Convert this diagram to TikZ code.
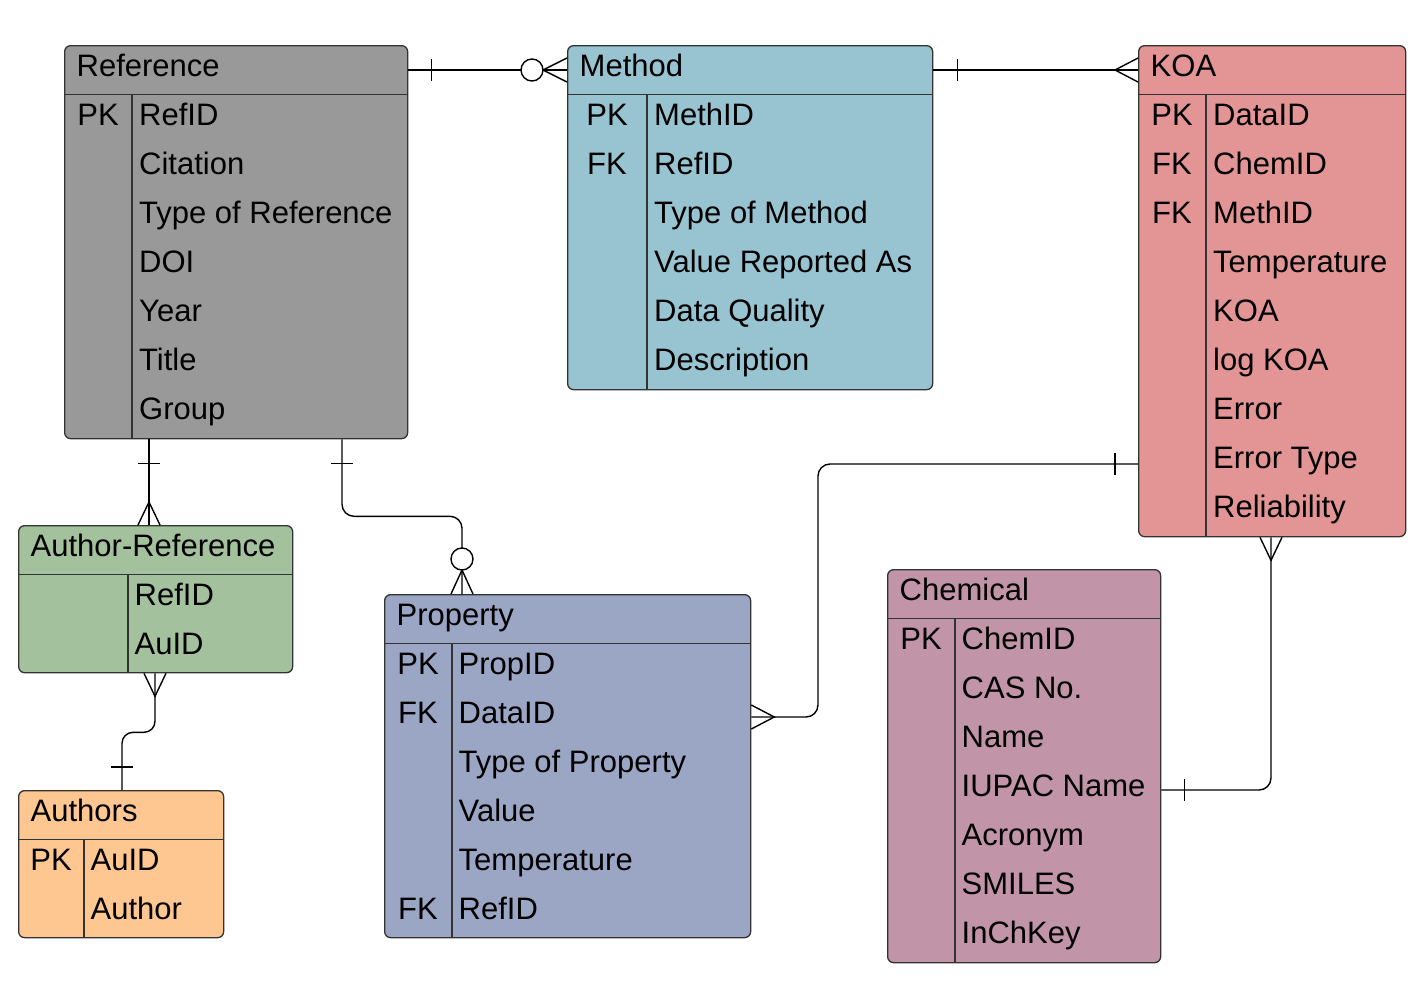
\documentclass[tikz,border=0pt]{standalone}
\usepackage{fontspec}
\setmainfont{Liberation Sans}
\usetikzlibrary{calc}
\definecolor{cref}{HTML}{999999}
\definecolor{cmeth}{HTML}{98C4D2}
\definecolor{ckoa}{HTML}{E29594}
\definecolor{caref}{HTML}{A3C19C}
\definecolor{cauth}{HTML}{FEC690}
\definecolor{cprop}{HTML}{9BA5C4}
\definecolor{cchem}{HTML}{C194A8}
\definecolor{cborder}{HTML}{333333}
\tikzset{
  entbox/.style={draw=cborder, line width=1.3pt, rounded corners=6pt, inner sep=0pt, rectangle},
  entline/.style={draw=cborder, line width=1.2pt},
  txt/.style={inner sep=0pt, font=\fontsize{31}{36}\selectfont},
  conn/.style={draw=black, line width=1.4pt},
}
% #1 name, #2 left, #3 top, #4 width, #5 height, #6 divider x, #7 colour, #8 title
\newcommand{\erentity}[8]{%
  \node[entbox, fill=#7, minimum width=#4pt, minimum height=#5pt, anchor=north west] (#1) at (#2,#3) {};
  \draw[entline] (#2,#3+49.5) -- (#2+#4,#3+49.5);
  \draw[entline] (#6,#3+49.5) -- (#6,#3+#5);
  \node[txt, anchor=base west] (#1-title) at (#2+12.5,#3+31) {#8};
}
% #1 name, #2 key centre x, #3 field x, #4 first baseline, #5 list
\newcommand{\errows}[5]{%
  \foreach \k/\f [count=\i from 0] in {#5} {
    \node[txt, anchor=base] (#1-k\i) at (#2,#4+49*\i) {\k};
    \node[txt, anchor=base west] (#1-f\i) at (#3,#4+49*\i) {\f};
  }%
}
\begin{document}
\begin{tikzpicture}[x=1pt,y=-1pt]
\useasboundingbox (0,0) rectangle (1425,1002);

% Entities
\erentity{ref}{64}{45}{343}{393}{132}{cref}{Reference}
\errows{ref}{98}{139}{125}{PK/RefID,/Citation,/Type of Reference,/DOI,/Year,/Title,/Group}

\erentity{meth}{567}{45}{365}{344}{647}{cmeth}{Method}
\errows{meth}{607}{654}{125}{PK/MethID,FK/RefID,/Type of Method,/Value Reported As,/Data Quality,/Description}

\erentity{koa}{1138}{45}{267}{491}{1206}{ckoa}{KOA}
\errows{koa}{1172}{1213}{125}{PK/DataID,FK/ChemID,FK/MethID,/Temperature,/KOA,/log KOA,/Error,/Error Type,/Reliability}

\erentity{aref}{18}{525}{274}{147}{128}{caref}{Author-Reference}
\errows{aref}{73}{134.5}{605}{/RefID,/AuID}

\erentity{auth}{18}{790}{205}{147}{84}{cauth}{Authors}
\errows{auth}{51}{90.5}{870}{PK/AuID,/Author}

\erentity{prop}{384}{594}{366}{343}{452}{cprop}{Property}
\errows{prop}{418}{458.5}{674}{PK/PropID,FK/DataID,/Type of Property,/Value,/Temperature,FK/RefID}

\erentity{chem}{887}{569}{273}{393}{955}{cchem}{Chemical}
\errows{chem}{921}{961.5}{649}{PK/ChemID,/CAS No.,/Name,/IUPAC Name,/Acronym,/SMILES,/InChKey}

% 1: Reference -- Method (one to zero-or-many)
\coordinate (c1a) at ([yshift=-25pt]ref.north east);
\coordinate (c1b) at ([yshift=-25pt]meth.north west);
\draw[conn] (c1a) -- (c1b);
\draw[conn] ([shift={(23pt,11pt)}]c1a) -- ([shift={(23pt,-11pt)}]c1a);
\draw[conn] ([yshift=12pt]c1b) -- ([xshift=-24pt]c1b) -- ([yshift=-12pt]c1b);
\draw[conn, fill=white] ([xshift=-35pt]c1b) circle[radius=11pt];

% 2: Method -- KOA (one to many)
\coordinate (c2a) at ([yshift=-25pt]meth.north east);
\coordinate (c2b) at ([yshift=-25pt]koa.north west);
\draw[conn] (c2a) -- (c2b);
\draw[conn] ([shift={(24pt,11pt)}]c2a) -- ([shift={(24pt,-11pt)}]c2a);
\draw[conn] ([yshift=12pt]c2b) -- ([xshift=-23pt]c2b) -- ([yshift=-12pt]c2b);

% 3: Reference -- Author-Reference
\coordinate (c3a) at ([xshift=85pt]ref.south west);
\coordinate (c3b) at ([xshift=131pt]aref.north west);
\draw[conn] (c3a) -- (c3b);
\draw[conn] ([shift={(-11pt,-24pt)}]c3a) -- ([shift={(11pt,-24pt)}]c3a);
\draw[conn] ([xshift=-11pt]c3b) -- ([yshift=23pt]c3b) -- ([xshift=11pt]c3b);

% 4: Reference -- Property
\coordinate (c4a) at ([xshift=278pt]ref.south west);
\coordinate (c4b) at ([xshift=78pt]prop.north west);
\coordinate (c4m) at ([yshift=-77pt]c4a);
\draw[conn, rounded corners=12pt] (c4a) -- (c4m) -| (c4b);
\draw[conn] ([shift={(-11pt,-24pt)}]c4a) -- ([shift={(11pt,-24pt)}]c4a);
\draw[conn] ([xshift=-11pt]c4b) -- ([yshift=24pt]c4b) -- ([xshift=11pt]c4b);
\draw[conn, fill=white] ([yshift=35pt]c4b) circle[radius=11pt];

% 5: Author-Reference -- Authors
\coordinate (c5a) at ([xshift=137pt]aref.south west);
\coordinate (c5b) at ([xshift=104pt]auth.north west);
\coordinate (c5m) at ([yshift=-59pt]c5a);
\draw[conn, rounded corners=11pt] (c5a) -- (c5m) -| (c5b);
\draw[conn] ([xshift=-11pt]c5a) -- ([yshift=-23pt]c5a) -- ([xshift=11pt]c5a);
\draw[conn] ([shift={(-11pt,23pt)}]c5b) -- ([shift={(11pt,23pt)}]c5b);

% 6: KOA -- Property
\coordinate (c6a) at ([yshift=-419pt]koa.north west);
\coordinate (c6b) at ([yshift=-123pt]prop.north east);
\coordinate (c6m) at ([xshift=-320pt]c6a);
\draw[conn, rounded corners=12pt] (c6a) -- (c6m) |- (c6b);
\draw[conn] ([shift={(-23pt,11pt)}]c6a) -- ([shift={(-23pt,-11pt)}]c6a);
\draw[conn] ([yshift=12pt]c6b) -- ([xshift=23pt]c6b) -- ([yshift=-12pt]c6b);

% 7: KOA -- Chemical
\coordinate (c7a) at ([xshift=133pt]koa.south west);
\coordinate (c7b) at ([yshift=-221pt]chem.north east);
\draw[conn, rounded corners=12pt] (c7a) |- (c7b);
\draw[conn] ([xshift=-11pt]c7a) -- ([yshift=-23pt]c7a) -- ([xshift=11pt]c7a);
\draw[conn] ([shift={(23pt,11pt)}]c7b) -- ([shift={(23pt,-11pt)}]c7b);
\end{tikzpicture}
\end{document}
